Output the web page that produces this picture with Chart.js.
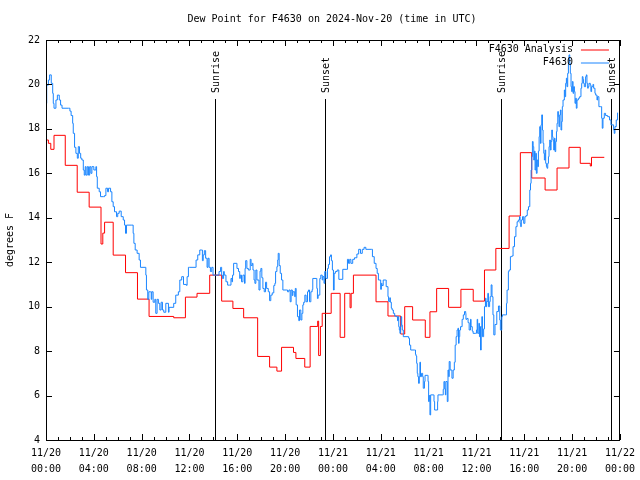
<!DOCTYPE html>
<html><head><meta charset="utf-8">
<script src="https://cdn.jsdelivr.net/npm/chart.js@4/dist/chart.umd.min.js"></script>
<style>html,body{margin:0;padding:0;background:#fff;}</style>
</head><body>
<canvas id="c" width="640" height="480"></canvas>
<script>
const titleText = 'Dew Point for F4630 on 2024-Nov-20 (time in UTC)';
const yAxisTitle = 'degrees F';
const seriesNames = ['F4630 Analysis', 'F4630'];
const seriesColors = ['#ff0000', '#1a85ff'];
const tickDates = ['11/20','11/20','11/20','11/20','11/20','11/20','11/21','11/21','11/21','11/21','11/21','11/21','11/22'];
const tickTimes = ['00:00','04:00','08:00','12:00','16:00','20:00','00:00','04:00','08:00','12:00','16:00','20:00','00:00'];
const eventHours = [14.1, 23.3, 38.08, 47.27];
const eventLabels = ['Sunrise', 'Sunset', 'Sunrise', 'Sunset'];

// hours since 11/20 00:00 UTC
const analysisHours = [0,0.2,0.4,0.67,1.61,2.61,3.61,4.6,4.75,4.9,5.62,6.65,7.65,8.62,10.68,11.66,12.63,13.69,14.69,15.63,16.53,17.7,18.7,19.31,19.7,20.7,20.9,21.64,22.09,22.72,22.8,22.95,23.1,23.85,24.6,24.98,25.43,25.52,25.71,27.6,28.6,29.66,30.0,30.66,31.72,32.11,32.67,33.67,34.7,35.73,36.67,37.62,38.73,39.67,40.62,41.74,42.74,43.74,44.68,45.52,45.62,46.69];
const analysisValues = [17.5,17.35,17.08,17.71,16.36,15.15,14.48,12.82,13.31,13.8,12.32,11.53,10.34,9.56,9.5,10.43,10.6,11.42,10.25,9.92,9.5,7.76,7.28,7.1,8.17,7.94,7.67,7.28,9.11,9.35,7.8,9.11,9.7,10.6,8.62,10.6,9.95,10.6,11.42,10.22,9.58,8.77,10.0,9.4,8.62,9.77,10.82,9.97,10.78,10.25,11.65,12.62,14.08,16.93,15.79,15.25,16.24,17.17,16.45,16.33,16.72,16.72];

const stationHours = [0,0.06,0.2,0.3,0.44,0.56,0.61,0.67,0.83,0.95,1.11,1.22,1.34,1.89,2.0,2.1,2.23,2.28,2.39,2.5,2.62,2.7,2.8,2.9,3.0,3.12,3.2,3.28,3.35,3.45,3.55,3.65,3.75,3.84,4.0,4.17,4.23,4.29,4.45,4.56,4.79,4.9,5.01,5.15,5.23,5.4,5.51,5.62,5.73,5.9,6.0,6.12,6.29,6.46,6.57,6.65,6.73,7.18,7.29,7.35,7.46,7.62,7.79,7.9,8.29,8.35,8.4,8.51,8.6,8.74,8.8,8.85,8.96,9.1,9.18,9.29,9.4,9.52,9.63,9.74,9.85,10.02,10.24,10.29,10.68,10.85,11.07,11.19,11.35,11.5,11.74,11.8,11.91,
12.02,12.47,12.55,12.69,12.86,13.02,13.08,13.15,13.24,13.35,13.47,13.55,13.64,13.75,13.86,13.97,14.14,14.3,14.47,14.6,14.69,14.75,14.85,14.91,15.05,15.19,15.35,15.47,15.55,15.6,15.69,15.9,15.97,16.1,16.2,16.25,16.35,16.47,16.6,16.65,16.7,16.8,16.92,17.08,17.15,17.25,17.31,17.4,17.47,17.55,17.64,17.75,17.81,17.9,17.97,18.05,18.14,18.25,18.36,18.45,18.59,18.7,18.8,18.92,19.05,19.14,19.2,19.31,19.38,19.42,19.5,19.59,19.7,19.81,20.09,20.2,20.31,20.42,20.5,20.6,20.65,20.8,20.85,20.92,21.03,21.14,21.2,21.31,21.4,21.48,21.55,21.65,21.75,21.87,21.95,22.04,22.15,22.26,22.31,22.59,22.65,22.7,22.76,22.9,22.98,23.1,23.15,23.25,23.31,23.4,23.54,23.62,23.71,23.8,23.87,23.95,24.04,24.1,24.2,24.35,
24.49,24.6,24.82,25.1,25.21,25.3,25.4,25.5,25.65,25.8,26.0,26.15,26.3,26.45,26.6,26.75,27.21,27.3,27.45,27.6,27.7,27.8,27.99,28.05,28.1,28.2,28.38,28.45,28.6,28.65,28.75,28.8,28.88,28.95,29.05,29.16,29.3,29.4,29.45,29.5,29.55,29.6,29.65,29.7,29.75,29.8,29.88,30.33,30.4,30.5,30.83,30.9,30.95,31.0,31.05,31.1,31.16,31.22,31.27,31.32,31.4,31.5,31.55,31.65,31.7,31.89,31.95,32.0,32.05,32.11,32.17,32.4,32.45,32.5,32.7,32.75,32.78,33.17,33.22,33.28,33.35,33.4,33.44,33.56,33.62,33.68,33.72,33.8,33.95,34.05,34.15,34.22,34.3,34.38,34.45,34.5,34.55,34.6,34.67,34.8,34.9,35.0,35.1,35.12,35.2,35.3,35.39,35.5,35.55,35.65,35.72,35.9,36.0,36.06,36.1,36.2,36.25,36.3,36.34,36.4,36.45,36.5,36.6,36.67,36.75,36.8,36.85,36.95,37.0,37.1,37.15,37.23,37.3,37.38,37.45,37.55,37.7,37.84,
37.95,38.0,38.06,38.12,38.17,38.45,38.51,38.56,38.62,38.67,38.73,38.84,38.95,39.06,39.18,39.3,39.4,39.5,39.6,39.65,39.7,39.75,39.85,39.95,40.05,40.15,40.25,40.35,40.46,40.52,40.57,40.63,40.68,40.74,40.79,40.85,40.9,40.96,41.01,41.07,41.13,41.18,41.24,41.29,41.35,41.4,41.46,41.52,41.57,41.63,41.68,41.74,41.79,41.85,41.9,41.96,42.02,42.07,42.13,42.18,42.24,42.3,42.35,42.4,42.46,42.52,42.57,42.63,42.69,42.74,42.8,42.85,42.9,42.96,43.02,43.07,43.13,43.18,43.24,43.35,43.4,43.46,43.52,43.57,43.63,43.69,43.74,43.8,43.85,43.91,43.96,44.02,44.08,44.13,44.19,44.24,44.3,44.35,44.41,44.52,44.63,44.74,44.8,44.85,44.91,44.96,45.02,45.13,45.19,45.24,45.3,45.35,45.41,45.52,45.57,45.63,45.74,45.8,45.91,45.97,46.08,46.13,46.24,46.36,46.47,46.52,46.58,46.69,46.8,46.97,47.13,47.25,47.47,47.52,47.58,47.69,47.8];
const stationValues = [19.15,19.97,20.2,20.43,20.05,19.6,19.15,18.93,19.3,19.52,19.3,19.07,18.93,18.93,18.8,18.6,18.25,17.8,17.17,16.9,16.68,17.2,16.9,16.68,16.6,16.15,15.92,16.3,15.92,16.3,15.92,16.3,16.0,16.3,16.15,16.3,15.85,15.33,15.17,14.95,14.95,15.0,15.33,15.17,15.33,15.17,14.72,14.5,14.27,14.05,14.2,14.3,14.05,13.9,13.67,13.3,13.67,13.67,13.3,12.85,12.55,12.4,12.1,11.77,11.77,11.42,10.75,10.33,10.67,10.67,10.33,10.67,10.2,10.33,9.7,10.33,10.15,9.85,10.2,9.85,9.75,10.15,9.75,9.97,10.15,10.52,10.67,11.2,11.35,11.0,10.96,11.35,11.77,
11.77,11.77,12.1,12.33,12.55,12.55,12.07,12.33,12.52,12.18,11.77,12.18,11.77,11.58,11.77,11.42,11.42,11.42,11.58,11.77,11.42,11.27,11.58,11.42,11.12,10.97,10.97,11.27,11.12,11.42,11.95,11.95,11.72,11.58,11.27,11.42,11.12,11.42,11.05,11.72,12.07,11.72,11.65,12.13,11.85,11.95,11.65,11.2,11.05,11.65,11.2,11.2,10.75,11.6,11.72,11.3,10.82,10.67,11.1,10.82,10.67,10.27,10.52,10.62,10.95,11.05,11.58,11.8,12.1,12.4,11.85,11.5,11.2,10.75,10.75,10.67,10.75,10.22,10.75,10.5,10.67,10.45,10.82,10.08,9.55,9.37,9.85,9.4,9.7,10.08,10.2,10.52,10.22,10.67,10.75,10.22,10.67,10.77,11.27,11.27,10.82,10.37,10.52,11.27,11.42,11.2,11.35,11.05,11.58,11.27,11.72,11.9,12.25,12.33,12.07,11.65,10.75,11.5,11.58,11.65,
11.23,11.23,11.68,11.68,12.13,11.95,12.13,11.95,12.13,12.2,12.37,12.58,12.4,12.58,12.67,12.58,12.58,12.25,11.95,11.72,11.5,11.2,10.78,11.05,10.95,11.2,11.2,10.9,10.45,10.23,10.4,10.2,9.93,9.85,9.7,9.58,9.55,9.37,9.55,9.1,8.95,8.8,9.1,9.55,9.17,8.95,8.65,8.58,8.27,8.05,8.05,7.85,7.78,7.45,7.0,6.85,6.55,6.85,7.5,6.85,7.0,6.85,6.33,6.63,6.91,6.91,6.63,5.73,6.0,5.13,6.03,6.03,5.73,5.35,5.35,5.73,6.03,6.03,6.28,6.63,6.3,6.03,6.63,5.73,7.15,6.85,7.53,7.15,6.78,7.15,7.5,8.27,8.65,8.95,9.03,8.35,8.65,8.95,9.1,9.43,9.63,9.78,9.7,9.43,9.47,9.28,8.95,9.43,9.1,8.9,8.8,8.8,8.95,9.43,8.8,9.25,8.65,9.1,8.05,9.1,9.55,8.65,9.0,10.0,10.38,10.0,10.23,10.6,10.0,10.23,10.45,10.98,10.45,9.63,8.73,9.2,9.78,10.03,
9.4,8.95,8.95,9.55,9.63,9.63,10.15,10.75,10.75,11.58,11.65,12.25,12.28,12.7,13.15,13.6,13.82,13.9,14.05,13.75,13.6,13.9,14.05,13.75,14.05,14.1,14.35,14.5,15.25,15.55,16.15,16.75,17.43,17.2,16.6,17.0,16.15,16.9,16.0,16.6,16.3,17.0,17.65,18.1,17.35,18.18,18.63,17.95,17.35,16.9,16.6,17.05,16.45,16.3,16.23,16.45,16.75,17.2,17.5,17.05,17.43,17.95,17.65,17.5,17.05,17.58,16.98,17.43,17.88,18.25,18.78,18.55,18.1,18.63,18.85,17.95,18.33,19.0,19.3,19.75,19.45,20.05,20.28,19.9,20.5,20.95,21.33,20.95,20.5,19.9,19.68,20.13,19.6,19.9,19.68,19.15,19.38,18.93,19.3,19.38,19.45,19.83,20.05,20.35,20.23,20.05,19.9,20.35,20.43,20.05,19.83,19.9,20.05,19.98,19.68,19.9,20.0,19.83,19.6,19.52,19.3,19.45,19.0,19.0,18.48,18.03,18.48,18.7,18.6,18.55,18.4,18.18,17.95,17.8,18.1,18.4,18.73];

const FONT = 'DejaVu Sans Mono';
const toPoints = (xs, ys) => xs.map((x, i) => ({x: x, y: ys[i]}));

const decor = {
  id: 'decor',
  beforeDatasetsDraw(chart) {
    const ctx = chart.ctx, xs = chart.scales.x, a = chart.chartArea;
    ctx.save();
    ctx.strokeStyle = '#000'; ctx.lineWidth = 1;
    ctx.fillStyle = '#000';
    ctx.font = '10px "' + FONT + '"';
    eventHours.forEach((h, i) => {
      const x = Math.round(xs.getPixelForValue(h)) + 0.5;
      ctx.beginPath(); ctx.moveTo(x, a.top + 59); ctx.lineTo(x, a.bottom); ctx.stroke();
      ctx.save(); ctx.translate(x + 1, a.top + 53); ctx.rotate(-Math.PI / 2);
      ctx.textAlign = 'left'; ctx.textBaseline = 'middle';
      ctx.fillText(eventLabels[i], 0, 0); ctx.restore();
    });
    ctx.restore();
  },
  afterDatasetsDraw(chart) {
    const ctx = chart.ctx, xs = chart.scales.x, ys = chart.scales.y, a = chart.chartArea;
    ctx.save();
    ctx.strokeStyle = '#000'; ctx.lineWidth = 1;
    ctx.strokeRect(Math.round(a.left) + 0.5, Math.round(a.top) + 0.5, Math.round(a.right - a.left) - 1, Math.round(a.bottom - a.top));
    ctx.beginPath();
    for (let h = xs.min; h <= xs.max; h++) {
      const x = Math.round(xs.getPixelForValue(h)) + 0.5;
      const len = (h % 4 === 0) ? 6 : 3;
      ctx.moveTo(x, a.bottom); ctx.lineTo(x, a.bottom - len);
      ctx.moveTo(x, a.top); ctx.lineTo(x, a.top + len);
    }
    for (let v = ys.min; v <= ys.max; v += 2) {
      const y = Math.round(ys.getPixelForValue(v)) + 0.5;
      ctx.moveTo(a.left, y); ctx.lineTo(a.left + 6, y);
      ctx.moveTo(a.right, y); ctx.lineTo(a.right - 6, y);
    }
    ctx.stroke();
    // legend
    ctx.font = '10px "' + FONT + '"';
    ctx.textAlign = 'right'; ctx.textBaseline = 'middle'; ctx.fillStyle = '#000';
    chart.data.datasets.forEach((ds, i) => {
      const y = a.top + 9.5 + i * 13;
      ctx.fillText(ds.label, a.right - 47, y);
      ctx.strokeStyle = ds.borderColor; ctx.lineWidth = 1;
      ctx.beginPath(); ctx.moveTo(a.right - 39, y + 0.5); ctx.lineTo(a.right - 11, y + 0.5); ctx.stroke();
    });
    // title
    ctx.textAlign = 'center'; ctx.fillStyle = '#000';
    ctx.fillText(titleText, (a.left + a.right) / 2 - 1, 19);
    ctx.restore();
  }
};

new Chart(document.getElementById('c'), {
  type: 'line',
  data: {
    datasets: [
      { label: seriesNames[0], data: toPoints(analysisHours, analysisValues), borderColor: seriesColors[0], borderWidth: 1, pointRadius: 0, stepped: 'before', fill: false, order: 2 },
      { label: seriesNames[1], data: toPoints(stationHours, stationValues), borderColor: seriesColors[1], borderWidth: 1, pointRadius: 0, stepped: 'before', fill: false, order: 1 }
    ]
  },
  options: {
    responsive: false, animation: false, devicePixelRatio: 1,
    layout: { padding: { top: 40, right: 19, left: 0, bottom: 0 } },
    plugins: { legend: { display: false }, tooltip: { enabled: false }, title: { display: false } },
    scales: {
      x: {
        type: 'linear', min: 0, max: 48,
        grid: { display: false, drawTicks: false }, border: { display: false },
        ticks: { stepSize: 4, autoSkip: false, maxRotation: 0, padding: 5, color: '#000',
          font: { family: FONT, size: 10, lineHeight: 1.6 },
          callback: (v) => { const i = Math.round(v / 4); return [tickDates[i], tickTimes[i]]; } },
        afterFit: (s) => { s.height = 40; }
      },
      y: {
        min: 4, max: 22,
        grid: { display: false, drawTicks: false }, border: { display: false },
        ticks: { stepSize: 2, padding: 6, color: '#000', font: { family: FONT, size: 10 } },
        title: { display: true, text: yAxisTitle, color: '#000', font: { family: FONT, size: 10 }, padding: { top: 4, bottom: 0 } },
        afterFit: (s) => { s.width = 46; }
      }
    }
  },
  plugins: [decor]
});
</script>
</body></html>
